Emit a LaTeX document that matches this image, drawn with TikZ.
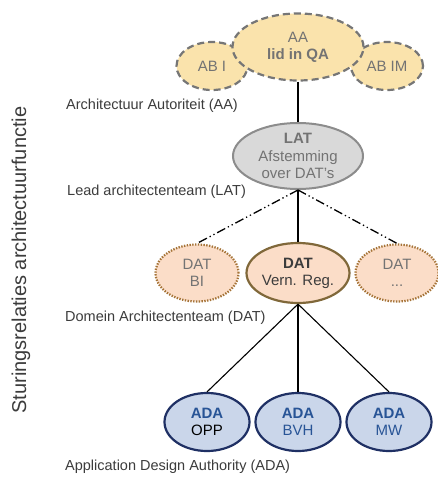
\documentclass[tikz,border=0pt]{standalone}
\usepackage{fontspec}
\setmainfont{Liberation Sans}
\usepackage{tikz}
\usetikzlibrary{shapes.geometric}

\definecolor{aafill}{RGB}{250,227,172}
\definecolor{aaline}{RGB}{118,118,118}
\definecolor{latfill}{RGB}{217,217,217}
\definecolor{latline}{RGB}{140,140,140}
\definecolor{datfill}{RGB}{251,221,200}
\definecolor{datdots}{RGB}{165,115,55}
\definecolor{datline}{RGB}{128,104,58}
\definecolor{adafill}{RGB}{202,214,234}
\definecolor{adaline}{RGB}{31,48,100}
\definecolor{adablue}{RGB}{40,84,150}
\definecolor{nodetext}{RGB}{115,115,115}
\definecolor{labeltext}{RGB}{60,60,60}

\tikzset{
    aabox/.style={ellipse, fill=aafill, draw=aaline, line width=2.2pt,
        dash pattern=on 7pt off 4pt, inner sep=0pt, align=center,
        text=nodetext, font=\fontsize{15}{17}\selectfont},
    latbox/.style={ellipse, fill=latfill, draw=latline, line width=2pt,
        minimum width=130pt, minimum height=66pt, inner sep=0pt, align=center,
        text=nodetext, font=\fontsize{15}{17.5}\selectfont},
    datbox/.style={ellipse, fill=datfill, inner sep=0pt, align=center,
        minimum width=83pt, minimum height=57pt,
        font=\fontsize{15}{17}\selectfont},
    datdotted/.style={datbox, draw=datdots, line width=2.2pt,
        dash pattern=on 1.4pt off 1.4pt, text=nodetext},
    adabox/.style={ellipse, fill=adafill, draw=adaline, line width=2.2pt,
        minimum width=85pt, minimum height=58pt, inner sep=0pt, align=center,
        text=adablue, font=\fontsize{15}{17}\selectfont},
    levellabel/.style={anchor=west, inner sep=0pt, text=labeltext,
        font=\fontsize{14.5}{16}\selectfont},
    dashdotdot/.style={line width=1.3pt,
        dash pattern=on 9pt off 3pt on 1.3pt off 3pt on 1.3pt off 3pt},
}

\begin{document}
\begin{tikzpicture}[x=1pt,y=-1pt]
    \useasboundingbox[fill=white] (0,0) rectangle (438,477);

    % Draw AA cloud
    \node[aabox, minimum width=71pt, minimum height=48pt] (abi) at (212,66) {AB I};
    \node[aabox, minimum width=72pt, minimum height=48pt] (abim) at (387,66) {AB IM};
    \node[aabox, minimum width=131pt, minimum height=67pt] (aa) at (298,47) {AA\\\textbf{lid in QA}};

    % Draw LAT
    \node[latbox] (lat) at (298,156) {\textbf{LAT}\\Afstemming\\over DAT's};

    % Draw DATs
    \node[datdotted] (dbi) at (197,273) {DAT\\BI};
    \node[datbox, draw=datline, line width=2.2pt, minimum width=103pt, minimum height=60pt,
        text=labeltext] (dvr) at (298,273) {\textbf{DAT}\\Vern. Reg.};
    \node[datdotted] (dmore) at (397,273) {DAT\\...};

    % Draw ADAs
    \node[adabox] (opp) at (207,422) {\textbf{ADA}\\\textcolor{black}{OPP}};
    \node[adabox] (bvh) at (298,422) {\textbf{ADA}\\BVH};
    \node[adabox] (mw) at (389,422) {\textbf{ADA}\\MW};

    % Draw connections
    \draw[line width=1.3pt] (aa) -- (lat);
    \draw[line width=1.3pt] (lat) -- (dvr);
    \draw[dashdotdot] (lat.south) -- (dbi.north);
    \draw[dashdotdot] (lat.south) -- (dmore.north);
    \draw[line width=1.1pt] (dvr.south) -- (opp.north);
    \draw[line width=1.1pt] (dvr.south) -- (bvh.north);
    \draw[line width=1.1pt] (dvr.south) -- (mw.north);

    % Level labels
    \node[levellabel] (lblaa) at (66,106) {Architectuur Autoriteit (AA)};
    \node[levellabel] (lbllat) at (67,192) {Lead architectenteam (LAT)};
    \node[levellabel] (lbldat) at (65,318) {Domein Architectenteam (DAT)};
    \node[levellabel] (lblada) at (65,467) {Application Design Authority (ADA)};
    \node[rotate=90, text=labeltext, font=\fontsize{20}{22}\selectfont] (side) at (21,260)
        {Sturingsrelaties architectuurfunctie};
\end{tikzpicture}
\end{document}
